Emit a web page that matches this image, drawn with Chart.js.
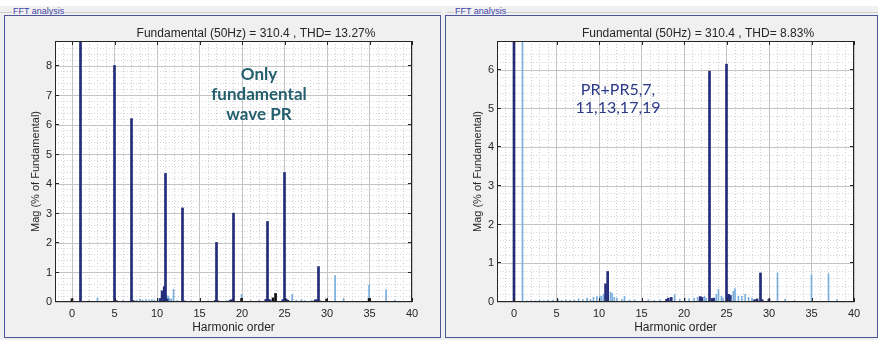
<!DOCTYPE html>
<html>
<head>
<meta charset="utf-8">
<script src="https://cdn.jsdelivr.net/npm/chart.js@4.4.1/dist/chart.umd.min.js"></script>
<style>
  body { margin: 0; width: 878px; height: 340px; background: #fff; position: relative; overflow: hidden; }
  .group { position: absolute; top: 6px; height: 334px; background: #f0f0f0; }
  .group .rule { position: absolute; top: 6px; left: 0; right: 0; border-top: 1px solid #cdcdcd; }
  .group .cap { position: absolute; top: 0; font: 9px 'Liberation Sans', Arial, sans-serif; line-height: 10px;
                color: #3d44a8; background: #f0f0f0; padding: 0 1px; }
  .frame { position: absolute; top: 15px; height: 323px; box-sizing: border-box; border: 1px solid #4b5598; background: #f0f0f0; }
  canvas { position: absolute; top: 16px; }
</style>
</head>
<body>
<div class="group" style="left:0; width:441px;"><div class="rule"></div><div class="cap" style="left:12px;">FFT analysis</div></div>
<div class="group" style="left:441px; width:437px;"><div class="rule" style="left:6px;"></div><div class="cap" style="left:13px;">FFT analysis</div></div>
<div class="frame" style="left:4px; width:437px;"></div>
<div class="frame" style="left:445px; width:433px;"></div>
<canvas id="left_chart" width="434" height="320" style="left:5px;"></canvas>
<canvas id="right_chart" width="430" height="320" style="left:446px;"></canvas>
<script>
const x_ticks = [0, 5, 10, 15, 20, 25, 30, 35, 40];
const left_y_ticks = [0, 1, 2, 3, 4, 5, 6, 7, 8];
const right_y_ticks = [0, 1, 2, 3, 4, 5, 6];

const left_title = 'Fundamental (50Hz) = 310.4 , THD= 13.27%';
const right_title = 'Fundamental (50Hz) = 310.4 , THD= 8.83%';
const left_note = ['Only', 'fundamental', 'wave PR'];
const right_note = ['PR+PR5,7,', '11,13,17,19'];

// left: PR on fundamental only
const left_main_order = [1, 5, 7, 11, 13, 17, 19, 23, 25, 29];
const left_main_mag = [100, 8.02, 6.22, 4.36, 3.19, 2.02, 3.01, 2.73, 4.39, 1.2];
const left_navy_order = [5.2, 7.2, 10.4, 10.6, 10.7, 10.85, 11.2, 13.2, 16.85, 17.15, 18.6, 18.8, 22.8, 23.15, 23.3, 24.8, 25.2, 25.4, 28.6, 28.8, 29.15];
const left_navy_mag = [0.05, 0.05, 0.12, 0.38, 0.18, 0.52, 0.1, 0.04, 0.05, 0.04, 0.06, 0.08, 0.09, 0.08, 0.07, 0.08, 0.1, 0.06, 0.07, 0.08, 0.04];
const left_black_order = [0, 19.95, 23.65, 23.95, 29.95, 34.95];
const left_black_mag = [0.11, 0.12, 0.14, 0.29, 0.1, 0.12];
const left_blue_order = [2.0, 3.0, 4.0, 6.0, 7.6, 8.0, 8.3, 8.7, 9.1, 9.4, 9.7, 10.1, 10.3, 10.95, 11.1, 11.3, 11.5, 11.7, 11.95, 12.4,
  14.0, 15.0, 16.0, 18.2, 19.95, 21.0, 22.0, 25.9, 26.4, 27.0, 27.4, 28.2, 30.95, 31.95, 33.0, 34.95, 36.95, 37.95];
const left_blue_mag = [0.05, 0.14, 0.04, 0.06, 0.06, 0.1, 0.07, 0.08, 0.06, 0.08, 0.07, 0.1, 0.12, 0.25, 0.22, 0.2, 0.12, 0.1, 0.43, 0.05,
  0.04, 0.04, 0.04, 0.05, 0.26, 0.05, 0.06, 0.26, 0.06, 0.08, 0.05, 0.05, 0.9, 0.12, 0.03, 0.57, 0.42, 0.06];

// right: PR + PR5,7,11,13,17,19
const right_main_order = [0, 23, 25, 29];
const right_main_mag = [100, 5.97, 6.15, 0.75];
const right_navy_order = [10.77, 11.02, 17.95, 18.15, 18.5, 21.9, 22.1, 23.3, 23.5, 25.25, 25.45, 28.3, 28.6, 29.2, 30.0];
const right_navy_mag = [0.47, 0.79, 0.07, 0.1, 0.12, 0.14, 0.12, 0.09, 0.1, 0.2, 0.17, 0.06, 0.08, 0.06, 0.08];
const right_black_order = [];
const right_black_mag = [];
const right_blue_order = [1, 1.5, 2.0, 2.5, 3.0, 3.5, 4.0, 4.6, 5.2, 5.6, 6.1, 6.6, 7.1, 7.6, 8.1, 8.6, 9.0, 9.35, 9.75, 10.1,
  10.3, 10.55, 11.35, 11.55, 11.8, 12.1, 12.7, 13.0, 13.6, 14.2, 15.1, 15.8, 16.5, 17.2, 18.9, 19.5, 20.1, 20.6, 21.2, 21.6,
  22.4, 22.6, 23.8, 24.05, 24.4, 24.6, 25.8, 26.0, 26.4, 26.8, 27.2, 27.6, 28.0, 29.9, 31.0, 31.9, 33.0, 35.0, 37.0, 38.0];
const right_blue_mag = [100, 0.03, 0.03, 0.03, 0.04, 0.03, 0.04, 0.05, 0.06, 0.04, 0.05, 0.04, 0.05, 0.08, 0.06, 0.1, 0.07, 0.12, 0.14, 0.16,
  0.15, 0.2, 0.26, 0.22, 0.12, 0.1, 0.07, 0.15, 0.05, 0.05, 0.05, 0.06, 0.04, 0.05, 0.19, 0.07, 0.1, 0.08, 0.1, 0.12,
  0.15, 0.1, 0.2, 0.33, 0.15, 0.1, 0.28, 0.35, 0.15, 0.15, 0.2, 0.12, 0.1, 0.04, 0.75, 0.07, 0.04, 0.7, 0.73, 0.06];

const font_family = "'Liberation Sans', Arial, sans-serif";
Chart.defaults.font.family = font_family;
Chart.defaults.color = '#262626';

// white axes background, then title, notes, box and inward ticks on top
const panel_text = {
  id: 'panel_text',
  beforeDraw(chart) {
    const a = chart.chartArea;
    chart.ctx.save();
    chart.ctx.fillStyle = '#ffffff';
    chart.ctx.fillRect(a.left, a.top, a.width, a.height);
    chart.ctx.restore();
  },
  afterDraw(chart, args, opts) {
    const ctx = chart.ctx;
    const area = chart.chartArea;
    const xs = chart.scales.x;
    const ys = chart.scales.y;
    ctx.save();
    ctx.strokeStyle = '#262626';
    ctx.lineWidth = 1;
    ctx.strokeRect(area.left + 0.5, area.top + 0.5, area.width - 1, area.height - 1);
    ctx.beginPath();
    x_ticks.forEach(function(v) {
      const px = Math.round(xs.getPixelForValue(v)) + 0.5;
      ctx.moveTo(px, area.bottom); ctx.lineTo(px, area.bottom - 4);
      ctx.moveTo(px, area.top); ctx.lineTo(px, area.top + 4);
    });
    opts.y_ticks.forEach(function(v) {
      const py = Math.round(ys.getPixelForValue(v)) - 0.5;
      ctx.moveTo(area.left, py); ctx.lineTo(area.left + 4, py);
      ctx.moveTo(area.right, py); ctx.lineTo(area.right - 4, py);
    });
    ctx.stroke();

    ctx.fillStyle = '#262626';
    ctx.font = '12px ' + font_family;
    ctx.textAlign = 'center';
    ctx.textBaseline = 'middle';
    ctx.fillText(opts.title, (area.left + area.right) / 2 + 22.5, 17.5);

    ctx.fillStyle = opts.note_color;
    ctx.font = opts.note_font;
    const nx = xs.getPixelForValue(opts.note_at[0]);
    const ny = ys.getPixelForValue(opts.note_at[1]);
    const start = ny - (opts.note.length - 1) * opts.note_step / 2;
    opts.note.forEach(function(line, i) {
      ctx.fillText(line, nx, start + i * opts.note_step);
    });
    ctx.restore();
  }
};

function to_points(xs, ys) {
  return xs.map(function(x, i) { return {x: x, y: ys[i]}; });
}

function bar_set(xs, ys, color, thick) {
  return {
    data: to_points(xs, ys),
    backgroundColor: color,
    borderWidth: 0,
    barThickness: thick,
    grouped: false
  };
}

function create_chart(canvas_id, p) {
  const ctx = document.getElementById(canvas_id).getContext('2d');
  new Chart(ctx, {
    type: 'bar',
    data: {
      datasets: [
        bar_set(p.main_x, p.main_y, '#232c78', 2),
        bar_set(p.navy_x, p.navy_y, '#252f7c', 2),
        bar_set(p.black_x, p.black_y, '#111111', 2),
        bar_set(p.blue_x, p.blue_y, '#79aedd', 1)
      ]
    },
    options: {
      responsive: false,
      animation: false,
      layout: { padding: p.padding },
      plugins: {
        legend: { display: false },
        tooltip: { enabled: false },
        panel_text: {
          title: p.title, note: p.note, note_at: p.note_at, note_step: p.note_step,
          note_font: p.note_font, note_color: p.note_color, y_ticks: p.y_ticks
        }
      },
      scales: {
        xMinor: {
          type: 'linear', position: 'bottom', min: -2, max: 40, offset: false,
          ticks: { display: false, stepSize: 1 },
          grid: { color: '#cfcfcf', drawTicks: false, offset: false },
          border: { display: false, dash: [1, 2] },
          afterFit: function(s) { s.height = 0; }
        },
        yMinor: {
          type: 'linear', position: 'left', min: 0, max: p.y_max,
          ticks: { display: false, stepSize: 0.2 },
          grid: { color: '#d6d6d6', drawTicks: false },
          border: { display: false, dash: [1, 2] },
          afterFit: function(s) { s.width = 0; }
        },
        x: {
          type: 'linear', position: 'bottom', min: -2, max: 40, offset: false,
          afterBuildTicks: function(s) { s.ticks = x_ticks.map(function(v) { return {value: v}; }); },
          ticks: { autoSkip: false, maxRotation: 0, padding: 5, font: { size: 11 }, color: '#262626' },
          grid: { color: '#c4c4c4', drawTicks: false, offset: false },
          border: { display: false },
          title: { display: true, text: 'Harmonic order', font: { size: 12 }, color: '#262626', padding: { top: 4, bottom: 1 } },
          afterFit: function(s) { s.height = 34; }
        },
        y: {
          type: 'linear', position: 'left', min: 0, max: p.y_max,
          afterBuildTicks: function(s) { s.ticks = p.y_ticks.map(function(v) { return {value: v}; }); },
          ticks: { autoSkip: false, padding: 3, font: { size: 11 }, color: '#262626' },
          grid: { color: '#c4c4c4', drawTicks: false },
          border: { display: false },
          title: { display: true, text: 'Mag (% of Fundamental)', font: { size: 11 }, color: '#262626' },
          afterFit: function(s) { s.width = 30; }
        }
      }
    },
    plugins: [panel_text]
  });
}

create_chart('left_chart', {
  main_x: left_main_order, main_y: left_main_mag,
  navy_x: left_navy_order, navy_y: left_navy_mag,
  black_x: left_black_order, black_y: left_black_mag,
  blue_x: left_blue_order, blue_y: left_blue_mag,
  y_max: 8.85, y_ticks: left_y_ticks, title: left_title,
  note: left_note, note_at: [22, 7.04], note_step: 19.7,
  note_font: 'bold 17px Lato', note_color: '#25606f',
  padding: { left: 20, top: 25, right: 27, bottom: 0 }
});

create_chart('right_chart', {
  main_x: right_main_order, main_y: right_main_mag,
  navy_x: right_navy_order, navy_y: right_navy_mag,
  black_x: right_black_order, black_y: right_black_mag,
  blue_x: right_blue_order, blue_y: right_blue_mag,
  y_max: 6.75, y_ticks: right_y_ticks, title: right_title,
  note: right_note, note_at: [12.24, 5.25], note_step: 18.3,
  note_font: '16px Lato', note_color: '#2c3a88',
  padding: { left: 21, top: 25, right: 22, bottom: 0 }
});
</script>
</body>
</html>
